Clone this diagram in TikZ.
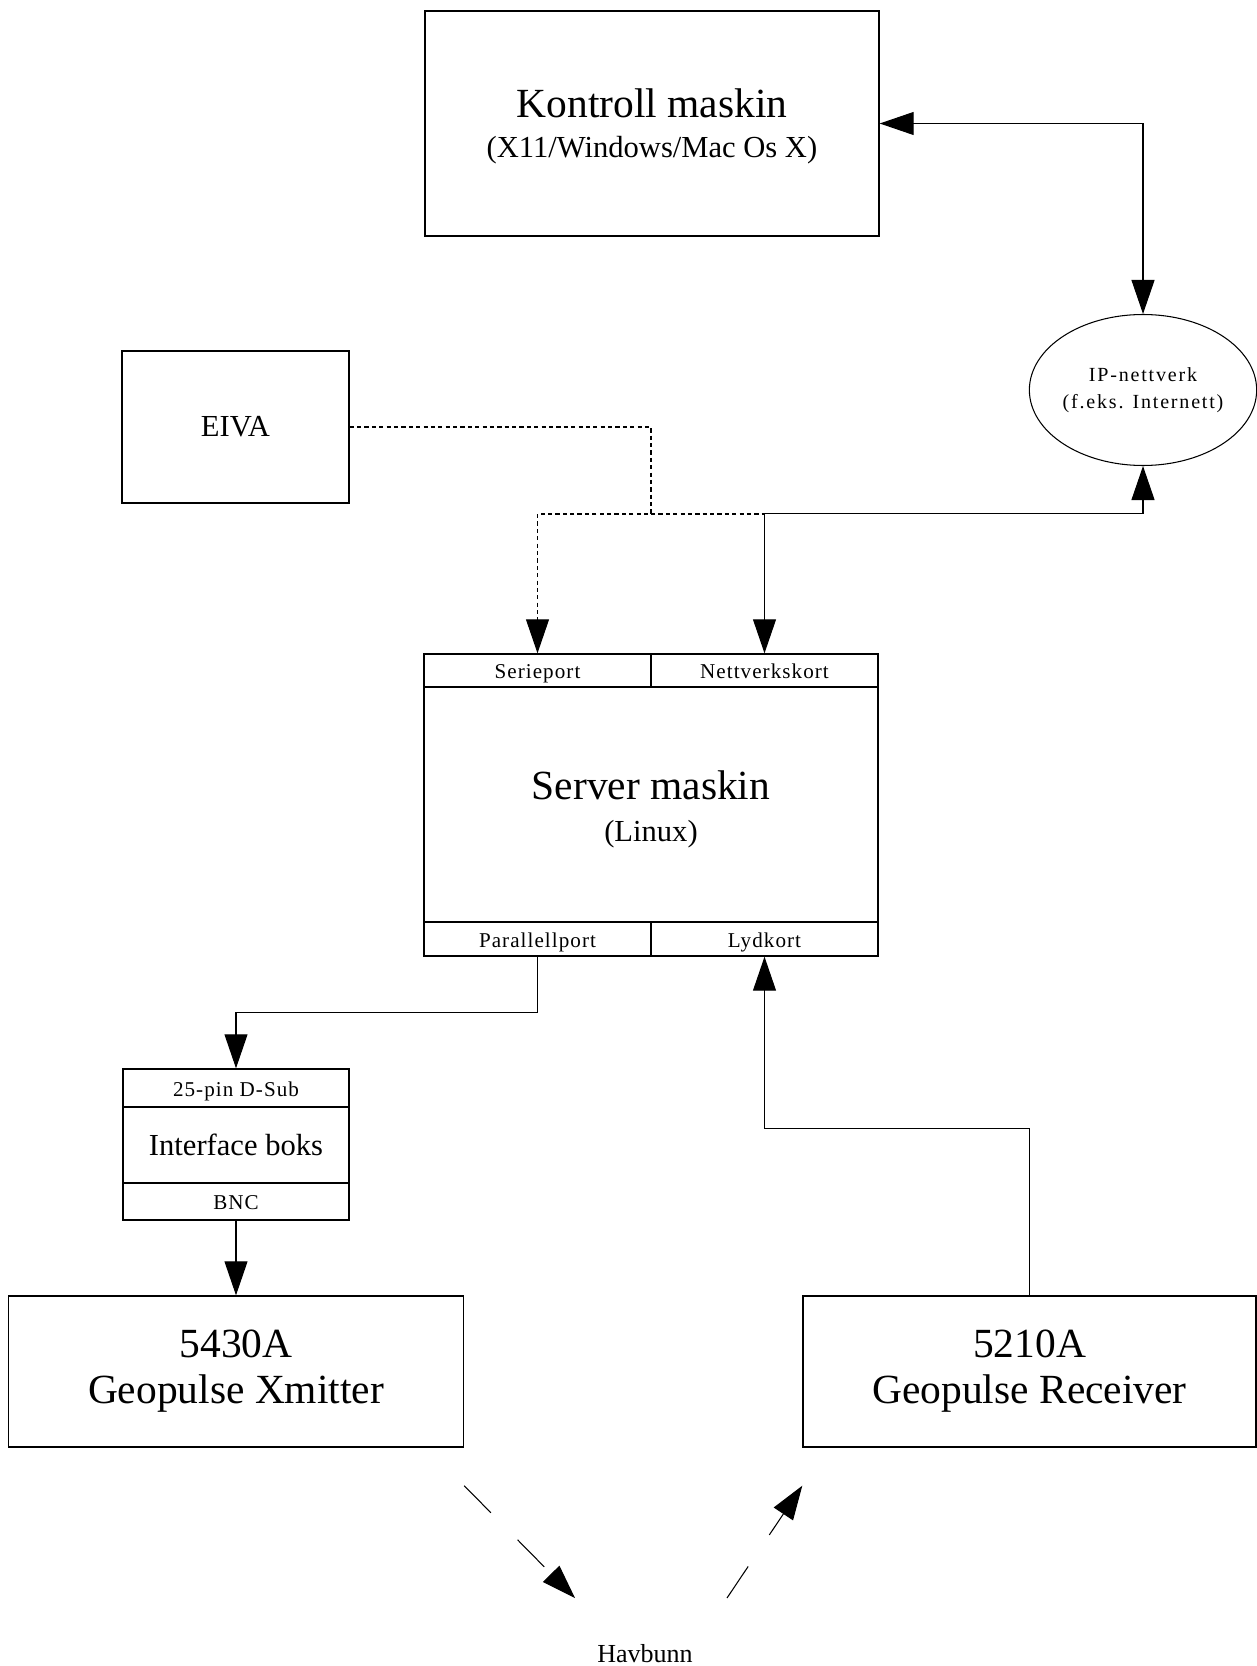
\documentclass[tikz,border=0pt]{standalone}
\usepackage{fontspec}
\setmainfont{Liberation Serif}
\newfontfamily\portfont[LetterSpace=5]{Liberation Serif}
\newfontfamily\netfont[LetterSpace=9]{Liberation Serif}
\usetikzlibrary{arrows.meta, shapes.geometric, calc}

\begin{document}
\begin{tikzpicture}[
    >={Triangle[length=3.4mm,width=2.3mm]},
    box/.style={draw, line width=0.4pt, inner sep=0pt},
    port/.style={box, minimum width=2.27cm, text height=1.9mm, text depth=0.3mm,
                 font=\portfont\fontsize{6}{7}\selectfont},
    titletxt/.style={font=\fontsize{11.8}{13.1}\selectfont, align=center},
    subtxt/.style={font=\fontsize{8.7}{10}\selectfont},
    link/.style={line width=0.3pt},
    serial/.style={link, dash pattern=on 1.2pt off 0.9pt},
    sonar/.style={link, dash pattern=on 3.8mm off 3.8mm}]
  \useasboundingbox (0,0) rectangle (12.57,-16.66);
  % control machine and network
  \node[box, minimum width=4.54cm, minimum height=2.25cm] (kontroll) at (6.52,-1.235) {};
  \node[titletxt, anchor=base] (kontrollname) at ([yshift=0.055cm] kontroll.center) {Kontroll maskin};
  \node[subtxt, anchor=base] (kontrollos) at ([yshift=-0.345cm] kontroll.center) {(X11/Windows/Mac Os X)};
  \node[ellipse, draw, line width=0.3pt, minimum width=2.21cm, minimum height=1.51cm, inner sep=0pt,
        align=center, font=\netfont\fontsize{5.7}{7.7}\selectfont] (ipnet) at (11.43,-3.90)
        {IP-nettverk\\(f.eks. Internett)};
  \node[box, subtxt, minimum width=2.27cm, minimum height=1.52cm] (eiva) at (2.355,-4.27) {EIVA};
  % server machine with its ports
  \node[box, minimum width=4.54cm, minimum height=3.02cm] (server) at (6.51,-8.05) {};
  \node[port, minimum height=0.33cm, anchor=north west] (serie) at (server.north west) {Serieport};
  \node[port, minimum height=0.33cm, anchor=north east] (nett) at (server.north east) {Nettverkskort};
  \node[port, minimum height=0.34cm, anchor=south west] (para) at (server.south west) {Parallellport};
  \node[port, minimum height=0.34cm, anchor=south east] (lyd) at (server.south east) {Lydkort};
  \node[titletxt, anchor=base] (servername) at ([yshift=0.06cm] server.center) {Server maskin};
  \node[subtxt, anchor=base] (serveros) at ([yshift=-0.36cm] server.center) {(Linux)};
  % interface box
  \node[box, subtxt, minimum width=2.26cm, minimum height=1.51cm] (iface) at (2.36,-11.445) {Interface boks};
  \node[port, minimum width=2.26cm, minimum height=0.38cm, anchor=north] (dsub) at (iface.north) {25-pin D-Sub};
  \node[port, minimum width=2.26cm, minimum height=0.37cm, anchor=south] (bnc) at (iface.south) {BNC};
  % geopulse units
  \node[box, titletxt, minimum width=4.55cm, minimum height=1.51cm] (xmit) at (2.36,-13.715) {5430A\\Geopulse Xmitter};
  \node[box, titletxt, minimum width=4.53cm, minimum height=1.51cm] (recv) at (10.295,-13.715) {5210A\\Geopulse Receiver};
  \node[font=\fontsize{7.4}{8}\selectfont, anchor=base] (havbunn) at (6.45,-16.62) {Havbunn};
  % network links
  \draw[link, <->] (kontroll.east) -| (ipnet.north);
  \draw[link, <->] (ipnet.south) -- ++(0,-0.47) -| (nett.north);
  % serial link from EIVA
  \coordinate (eivasplit) at (6.51,-5.14);
  \draw[serial, ->] (eiva.east) -| (eivasplit) -| (serie.north);
  \draw[serial] (eivasplit) -- (eivasplit -| nett.north);
  % trigger and signal
  \draw[link, ->] (para.south) -- ++(0,-0.555) -| (dsub.north);
  \draw[link, ->] (bnc.south) -- (xmit.north);
  \draw[link, ->] (recv.north) -- ++(0,1.67) -| (lyd.south);
  % sound path via the sea floor
  \coordinate (pingout) at ([yshift=-3.8mm] xmit.south east);
  \coordinate (pingin) at ([yshift=-3.8mm] recv.south west);
  \coordinate (bunnl) at ([shift={(-0.7,0.64)}] havbunn.base);
  \coordinate (bunnr) at ([shift={(0.82,0.64)}] havbunn.base);
  \draw[sonar, ->] (pingout) -- (bunnl);
  \draw[sonar, ->] (bunnr) -- (pingin);
\end{tikzpicture}
\end{document}
